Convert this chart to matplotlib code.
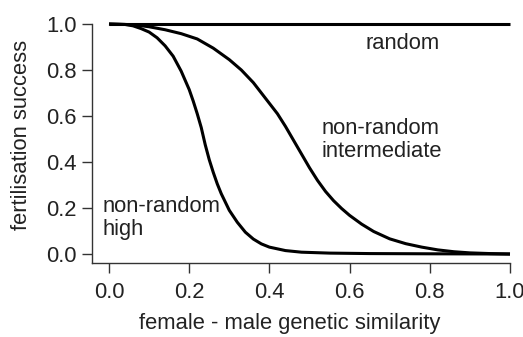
import matplotlib
matplotlib.use("Agg")
import matplotlib.pyplot as plt

plt.rcParams['font.family'] = ['Liberation Sans', 'DejaVu Sans']

# Data
random_x = [0.0, 1.0]
random_y = [1.0, 1.0]

high_x = [0.00, 0.04, 0.06, 0.08, 0.10, 0.12, 0.14, 0.16, 0.18, 0.20, 0.21, 0.22,
          0.23, 0.24, 0.25, 0.26, 0.27, 0.28, 0.30, 0.32, 0.34, 0.36, 0.38, 0.40,
          0.44, 0.48, 0.55, 0.65, 0.80, 1.00]
high_y = [1.000, 0.998, 0.992, 0.980, 0.965, 0.940, 0.905, 0.860, 0.795, 0.715, 0.665, 0.610,
          0.550, 0.475, 0.410, 0.355, 0.305, 0.262, 0.190, 0.138, 0.095, 0.065, 0.044, 0.030,
          0.015, 0.008, 0.004, 0.002, 0.001, 0.000]

inter_x = [0.00, 0.06, 0.10, 0.14, 0.18, 0.22, 0.26, 0.30, 0.33, 0.36, 0.38, 0.40,
           0.42, 0.44, 0.46, 0.48, 0.50, 0.52, 0.54, 0.56, 0.58, 0.60, 0.63, 0.66,
           0.70, 0.74, 0.78, 0.82, 0.86, 0.90, 0.95, 1.00]
inter_y = [1.000, 0.997, 0.988, 0.975, 0.958, 0.935, 0.895, 0.845, 0.800, 0.745, 0.700, 0.655,
           0.610, 0.555, 0.495, 0.435, 0.375, 0.320, 0.272, 0.232, 0.198, 0.168, 0.130, 0.098,
           0.066, 0.045, 0.030, 0.018, 0.010, 0.005, 0.002, 0.000]

xticks = [0.0, 0.2, 0.4, 0.6, 0.8, 1.0]
yticks = [0.0, 0.2, 0.4, 0.6, 0.8, 1.0]

W, H = 523, 337
fs = 15.8
fig = plt.figure(figsize=(W / 100, H / 100), dpi=100)
L, R, T, B = 92, 510, 24, 263
ax = fig.add_axes([L / W, 1 - B / H, (R - L) / W, (B - T) / H])

lw = 2.2
for xs, ys in [(random_x, random_y), (high_x, high_y), (inter_x, inter_y)]:
    ax.plot(xs, ys, color='black', lw=lw, clip_on=False, solid_capstyle='butt')

ax.set_xlim(-0.0424, 1.0)
ax.set_ylim(-0.039, 1.0)

for s in ['top', 'right']:
    ax.spines[s].set_visible(False)
for s in ['left', 'bottom']:
    ax.spines[s].set_linewidth(1.0)
    ax.spines[s].set_color('#333333')

ax.set_xticks(xticks)
ax.set_yticks(yticks)
ax.set_xticklabels([f"{v:.1f}" for v in xticks])
ax.set_yticklabels([f"{v:.1f}" for v in yticks])
ax.tick_params(axis='both', length=7, width=1.0, color='#333333',
               labelsize=fs, labelcolor='#222222')
ax.tick_params(axis='x', pad=7)
ax.tick_params(axis='y', pad=4)

tc = '#222222'
ax.set_xlabel('female - male genetic similarity', fontsize=fs, color=tc, va='center')
ax.xaxis.set_label_coords((290 - L) / (R - L), (B - 323) / (B - T))
ax.set_ylabel('fertilisation success', fontsize=fs, color=tc, va='center')
ax.yaxis.set_label_coords((22 - L) / (R - L), (B - 135) / (B - T))

ax.text(0.733, 0.917, 'random', fontsize=fs, color=tc, ha='center', va='center')
ax.text(0.530, 0.496, 'non-random\nintermediate', fontsize=fs, color=tc,
        ha='left', va='center', linespacing=1.12)
ax.text(-0.016, 0.157, 'non-random\nhigh', fontsize=fs, color=tc,
        ha='left', va='center', linespacing=1.12)

fig.savefig('out.png', dpi=100)
